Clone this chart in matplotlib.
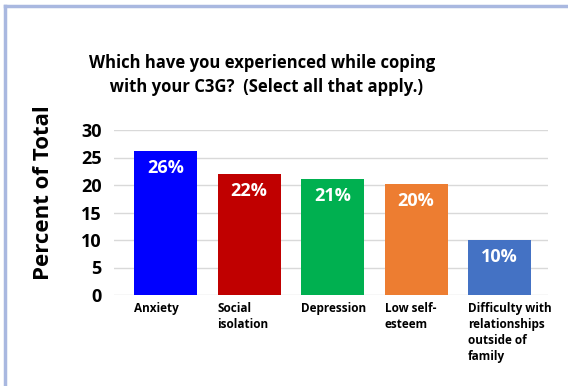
import matplotlib
matplotlib.use("Agg")
import matplotlib.pyplot as plt
from matplotlib.lines import Line2D

categories = ["Anxiety", "Social\nisolation", "Depression", "Low self-\nesteem",
              "Difficulty with\nrelationships\noutside of\nfamily"]
percent = [26.2, 22.0, 21.1, 20.2, 10.0]
colors = ["#0000FF", "#C00000", "#00B050", "#ED7D31", "#4472C4"]
yticks = [0, 5, 10, 15, 20, 25, 30]

plt.rcParams["font.family"] = ["Open Sans", "DejaVu Sans"]
plt.rcParams["font.weight"] = "bold"

W, H = 568, 386
fig = plt.figure(figsize=(W / 100, H / 100), dpi=100)
ax = fig.add_axes([114 / W, 1 - 295 / H, (548 - 114) / W, (295 - 130) / H])

x = list(range(len(categories)))
bars = ax.bar(x, percent, width=0.755, color=colors, zorder=3)
for b, v in zip(bars, percent):
    ax.text(b.get_x() + b.get_width() / 2, v - 1.5, f"{v:.0f}%", ha="center", va="top",
            color="white", fontsize=13, fontweight="bold", zorder=4)

ax.set_xlim(-0.617, 4.58)
ax.set_ylim(0, 30)
ax.set_yticks(yticks)
ax.set_yticklabels([str(t) for t in yticks], fontsize=13, fontweight="bold")
ax.yaxis.grid(True, color="#D9D9D9", lw=1.0, zorder=0)
ax.tick_params(axis="y", length=0, pad=9)
ax.set_xticks([])
for s in ax.spines.values():
    s.set_visible(False)

# category labels sit left-aligned under each bar
for b, c in zip(bars, categories):
    ax.annotate(c, xy=(b.get_x(), 0), xycoords="data", xytext=(0, -5),
                textcoords="offset points", ha="left", va="top",
                fontsize=8.5, fontweight="bold", linespacing=1.3)

ax.set_ylabel("Percent of Total", fontsize=16, fontweight="bold")
ax.yaxis.set_label_coords(-0.138, 0.62)
fig.text(262 / W, 1 - 75 / H,
         "Which have you experienced while coping\n  with your C3G?  (Select all that apply.)",
         ha="center", va="center", fontsize=12, fontweight="bold", linespacing=1.4)

# frame edges along top and left
fig.add_artist(Line2D([4.5 / W, 1], [1 - 5.5 / H] * 2, color="#A9B8E0", lw=2.5))
fig.add_artist(Line2D([4.5 / W] * 2, [0, 1 - 5.5 / H], color="#A9B8E0", lw=2.5))

fig.savefig("out.png", dpi=100)
